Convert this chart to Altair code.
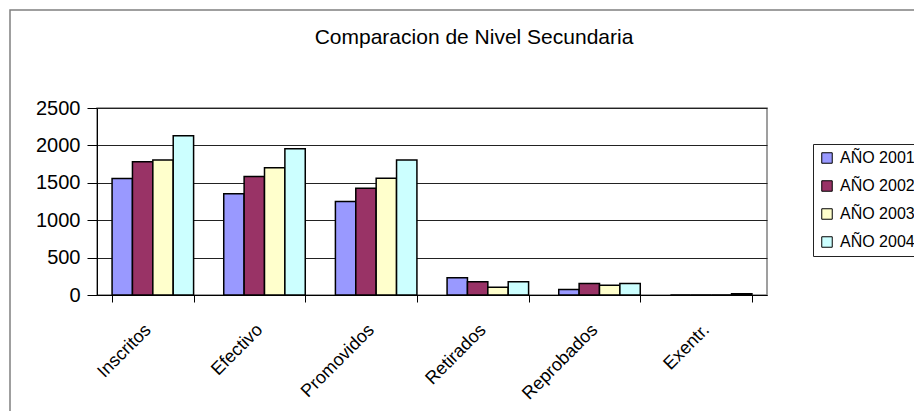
import altair as alt
import pandas as pd

categories = ["Inscritos", "Efectivo", "Promovidos", "Retirados", "Reprobados", "Exentr."]
years = ["AÑO 2001", "AÑO 2002", "AÑO 2003", "AÑO 2004"]
v2001 = [1558, 1353, 1250, 232, 75, 0]
v2002 = [1782, 1585, 1428, 178, 155, 0]
v2003 = [1804, 1701, 1562, 102, 129, 0]
v2004 = [2130, 1956, 1804, 178, 155, 17]
colors = ["#9999FF", "#993366", "#FFFFCC", "#CCFFFF"]
title_text = "Comparacion de Nivel Secundaria"
y_ticks = [0, 500, 1000, 1500, 2000, 2500]

rows = []
for yr, vals in zip(years, [v2001, v2002, v2003, v2004]):
    for c, v in zip(categories, vals):
        rows.append({"Categoria": c, "Año": yr, "Valor": v})
df = pd.DataFrame(rows)

FONT = "Liberation Sans"

bars = alt.Chart(df).mark_bar(stroke="black", strokeWidth=1.5).encode(
    x=alt.X(
        "Categoria:N",
        sort=categories,
        scale=alt.Scale(paddingInner=0.27, paddingOuter=0.135),
        axis=alt.Axis(
            title=None, labelAngle=-45, labelAlign="right", labelBaseline="middle",
            labelPadding=25, labelOffset=-5, tickBand="extent", tickSize=7, tickColor="black",
            domainColor="black", labelFont=FONT, labelFontSize=18, labelColor="black",
            grid=False,
        ),
    ),
    xOffset=alt.XOffset("Año:N", sort=years, scale=alt.Scale(paddingInner=0, paddingOuter=0)),
    y=alt.Y(
        "Valor:Q",
        scale=alt.Scale(domain=[0, 2500], nice=False),
        axis=alt.Axis(
            values=y_ticks, format="d", title=None, grid=True, gridColor="#222222", gridWidth=1,
            tickSize=10, tickColor="black", labelPadding=7, labelFont=FONT,
            labelFontSize=20, labelColor="black", domainColor="black",
        ),
    ),
    fill=alt.Fill(
        "Año:N",
        sort=years,
        scale=alt.Scale(domain=years, range=colors),
        legend=alt.Legend(
            title=None, orient="none", legendX=716, legendY=36, symbolType="square",
            symbolSize=110, symbolStrokeColor="black", symbolStrokeWidth=1,
            labelFont=FONT, labelFontSize=16, labelColor="black", labelOffset=5,
            rowPadding=12, padding=6, strokeColor="#222222", fillColor="white",
        ),
    ),
)

one = pd.DataFrame({"k": [0]})
border = alt.Chart(one).mark_rect(fillOpacity=0, stroke="#808080", strokeWidth=1.5).encode(
    x=alt.value(-87), x2=alt.value(840), y=alt.value(-98), y2=alt.value(340)
)
title = alt.Chart(one).mark_text(font=FONT, fontSize=21, color="black", align="center", baseline="middle").encode(
    x=alt.value(377), y=alt.value(-70), text=alt.value(title_text)
)

chart = alt.layer(border, bars, title).properties(
    width=670, height=187,
    padding={"left": 89, "top": 100, "right": 147, "bottom": 116},
    autosize="none", background="white",
).configure_view(stroke="#808080", strokeWidth=1.5)

chart.save("out.html", embed_options={"renderer": "svg", "actions": False})
